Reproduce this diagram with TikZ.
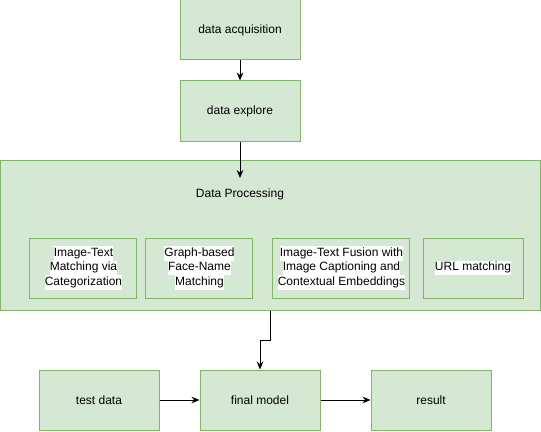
\documentclass[tikz,border=0pt]{standalone}
\usepackage{fontspec}
\setmainfont{Liberation Sans}
\usetikzlibrary{positioning,arrows.meta}
\definecolor{boxfondo}{HTML}{D5E8D4}
\definecolor{boxborde}{HTML}{82B366}
\tikzset{paso/.style={draw=boxborde, fill=boxfondo, line width=0.75pt, inner sep=0pt,
            minimum width=90pt, minimum height=45pt, align=center,
            font=\fontsize{9}{10.8}\selectfont}}
\tikzset{flecha/.style={line width=0.75pt, -{Stealth[length=6pt,width=5pt]}}}
\newcommand{\fondo}[1]{{\setlength{\fboxsep}{0pt}\colorbox{white}{\strut #1}}}

\begin{document}
\begin{tikzpicture}
            \useasboundingbox (0,0) rectangle (405.75pt,-323.25pt);
            \node[paso] (acq) at (180pt,-22.5pt) {data acquisition};
            \node[paso, below = 15pt of acq] (explore) {data explore};
            \node[paso, minimum width=405pt, minimum height=112.5pt] (proc) at (202.5pt,-176.25pt) {};
            \node[font=\fontsize{9}{10.8}\selectfont] (dptexto) at (180pt,-145.5pt) {Data Processing};
            \coordinate (entrada) at (180pt,-133.5pt);

            \node[paso, minimum width=80.25pt]  (cat)   at (62.6pt,-201pt)  {\fondo{Image-Text}\\\fondo{Matching via}\\\fondo{Categorization}};
            \node[paso, minimum width=80.25pt]  (graph) at (149.6pt,-201pt) {\fondo{Graph-based}\\\fondo{Face-Name}\\\fondo{Matching}};
            \node[paso, minimum width=102.75pt] (fusion) at (256.1pt,-201pt) {\fondo{Image-Text Fusion with}\\\fondo{Image Captioning and}\\\fondo{Contextual Embeddings}};
            \node[paso, minimum width=75pt]     (url)   at (354.75pt,-201pt) {\fondo{URL matching}};

            \node[paso] (final) at (195pt,-300pt) {final model};
            \node[paso, left  = 30pt of final]   (test)   {test data};
            \node[paso, right = 37.5pt of final] (result) {result};

            \draw[flecha] (acq) -- (explore);
            \draw[flecha] (explore) -- (entrada);
            \draw[flecha] (proc.south) -- ++(0,-22.5pt) -| (final.north);
            \draw[flecha] (test) -- (final);
            \draw[flecha] (final) -- (result);
        \end{tikzpicture}
\end{document}
